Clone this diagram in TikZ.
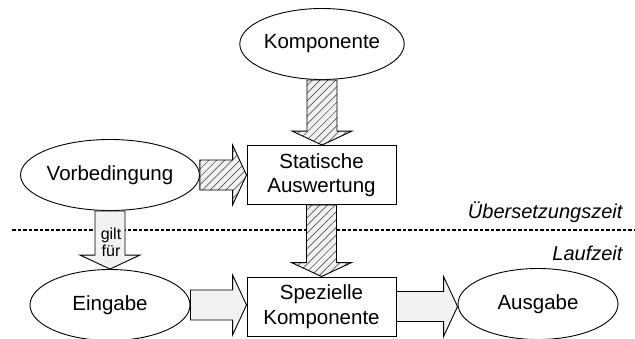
\documentclass[tikz,border=0pt]{standalone}
\usepackage{fontspec}
\setmainfont{Liberation Sans}
\usetikzlibrary{calc,patterns.meta,shapes.geometric}

% block arrows between two named points
\newcommand\arrowright[3]{%
  \draw[#1] let \p1=(#2), \p2=(#3) in
    (\x1,\y1+15pt) -- (\x2-14pt,\y1+15pt) -- (\x2-14pt,\y1+30pt) -- (\x2,\y1)
    -- (\x2-14pt,\y1-30pt) -- (\x2-14pt,\y1-15pt) -- (\x1,\y1-15pt) -- cycle;}
\newcommand\arrowdown[3]{%
  \draw[#1] let \p1=(#2), \p2=(#3) in
    (\x1-15pt,\y1) -- (\x1-15pt,\y2+14pt) -- (\x1-30pt,\y2+14pt) -- (\x1,\y2)
    -- (\x1+30pt,\y2+14pt) -- (\x1+15pt,\y2+14pt) -- (\x1+15pt,\y1) -- cycle;}

\begin{document}
\begin{tikzpicture}[x=1pt,y=-1pt,
                    every node/.style={font=\fontsize{20.5}{24.5}\selectfont},
                    oval/.style={draw,ellipse,line width=0.9pt,inner sep=0pt,
                                 minimum width=160pt,minimum height=71pt},
                    stage/.style={draw,rectangle,line width=0.9pt,align=center,
                                  minimum width=149pt,minimum height=59pt},
                    hatched/.style={draw,line width=0.9pt,preaction={fill=gray!12},
                                    pattern={Lines[angle=45,distance=5.5pt,line width=0.5pt]},
                                    pattern color=black!80},
                    plain/.style={draw,line width=0.9pt,fill=gray!10},
                    zeit/.style={anchor=east,font=\fontsize{20}{24}\selectfont\itshape}]
\useasboundingbox (0,0) rectangle (635,338);
\node[oval]  (komp)  at (322,44)    {Komponente};
\node[oval]  (vorb)  at (110,175)   {Vorbedingung};
\node[stage] (stat)  at (321.5,175) {Statische\\Auswertung};
\node[oval]  (ein)   at (110,305)   {Eingabe};
\node[stage] (spez)  at (321.5,306.5) {Spezielle\\Komponente};
\node[oval]  (aus)   at (538,304)   {Ausgabe};
% compile time / run time border
\coordinate (sepL) at (12,230);
\coordinate (sepR) at (635,230);
\draw[line width=1.2pt,dash pattern=on 3.5pt off 2pt] (sepL) -- (sepR);
\node[zeit] (uez)  at (626,212) {Übersetzungszeit};
\node[zeit] (lz)   at (626,253) {Laufzeit};
% arrows
\arrowdown{hatched}{komp.south}{stat.north}
\arrowright{hatched}{vorb.east}{stat.west}
\arrowdown{hatched}{stat.south}{spez.north}
\arrowdown{plain}{vorb.south}{ein.north}
\arrowright{plain}{ein.east}{spez.west}
\arrowright{plain}{spez.east}{aus.west}
\node[align=center,font=\fontsize{16}{17}\selectfont,inner sep=0pt] (gilt) at (111,242) {gilt\\für};
\end{tikzpicture}
\end{document}
